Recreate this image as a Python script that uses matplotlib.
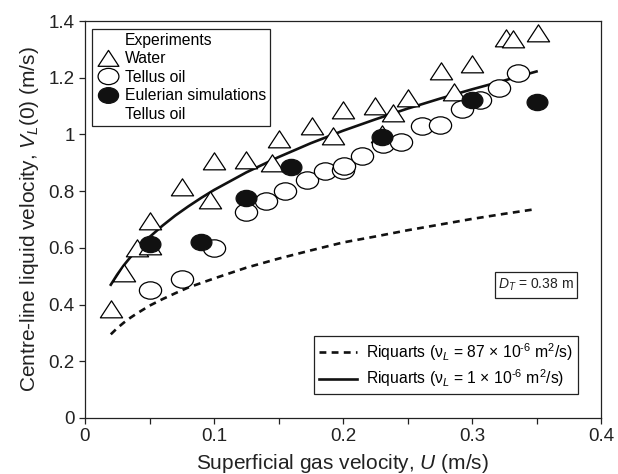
import matplotlib
matplotlib.use("Agg")
import matplotlib.pyplot as plt
from matplotlib.lines import Line2D
from matplotlib.path import Path
from matplotlib.patches import Rectangle
from matplotlib.transforms import Affine2D
import numpy as np

plt.rcParams['font.family'] = ['Liberation Sans', 'DejaVu Sans']
plt.rcParams['mathtext.fontset'] = 'custom'
plt.rcParams['mathtext.rm'] = 'Liberation Sans'
plt.rcParams['mathtext.it'] = 'Liberation Sans:italic'
plt.rcParams['mathtext.bf'] = 'Liberation Sans:bold'

# ---- data ----
water_u = [0.020, 0.030, 0.040, 0.050, 0.050, 0.075, 0.097, 0.100, 0.125, 0.145,
           0.150, 0.176, 0.192, 0.200, 0.225, 0.230, 0.239, 0.250, 0.276, 0.286,
           0.300, 0.326, 0.332, 0.351]
water_v = [0.385, 0.510, 0.600, 0.605, 0.695, 0.815, 0.770, 0.905, 0.910, 0.900,
           0.985, 1.030, 0.995, 1.085, 1.100, 1.000, 1.075, 1.130, 1.225, 1.150,
           1.250, 1.340, 1.335, 1.357]

oil_u = [0.050, 0.075, 0.100, 0.125, 0.140, 0.155, 0.172, 0.186, 0.200, 0.201,
         0.215, 0.231, 0.245, 0.261, 0.275, 0.292, 0.306, 0.321, 0.336]
oil_v = [0.450, 0.490, 0.600, 0.725, 0.765, 0.800, 0.840, 0.870, 0.875, 0.890,
         0.925, 0.965, 0.975, 1.030, 1.035, 1.090, 1.120, 1.165, 1.215]

sim_u = [0.050, 0.090, 0.125, 0.160, 0.230, 0.300, 0.350]
sim_v = [0.613, 0.620, 0.775, 0.885, 0.990, 1.120, 1.113]

riq_u = [0.02, 0.025, 0.03, 0.035, 0.04, 0.045, 0.05, 0.06, 0.07, 0.08, 0.09, 0.10,
         0.125, 0.15, 0.175, 0.20, 0.225, 0.25, 0.275, 0.30, 0.325, 0.35]
riq_oil_v = [0.295, 0.317, 0.336, 0.353, 0.368, 0.382, 0.396, 0.419, 0.440, 0.460,
             0.476, 0.492, 0.530, 0.562, 0.591, 0.619, 0.640, 0.662, 0.682, 0.702,
             0.720, 0.737]
riq_water_v = [0.470, 0.506, 0.538, 0.566, 0.592, 0.616, 0.638, 0.678, 0.714, 0.746,
               0.776, 0.804, 0.866, 0.920, 0.969, 1.013, 1.053, 1.091, 1.126, 1.159,
               1.190, 1.222]

x_ticks = [0, 0.1, 0.2, 0.3, 0.4]
y_ticks = [0, 0.2, 0.4, 0.6, 0.8, 1.0, 1.2, 1.4]

# ---- marker shapes (slightly flattened, as in the reference) ----
ell = Path.unit_circle().transformed(Affine2D().scale(1.0, 0.78))
tri = Path([(-1, -0.75), (1, -0.75), (0, 0.78), (-1, -0.75)],
           [Path.MOVETO, Path.LINETO, Path.LINETO, Path.CLOSEPOLY])

fig = plt.figure(figsize=(6.18, 4.74), dpi=100)
ax = fig.add_axes([85/618, 1-418/474, (601-85)/618, (418-21)/474])

ms = 16
mew = 0.9
dash = (0, (2.6, 2.0))
ax.plot(riq_u, riq_oil_v, color='#111111', lw=1.9, ls=dash, zorder=2)
ax.plot(riq_u, riq_water_v, color='#111111', lw=1.9, zorder=2)
ax.plot(water_u, water_v, ls='none', marker=tri, ms=ms, mfc='white', mec='black',
        mew=mew, zorder=3)
ax.plot(oil_u, oil_v, ls='none', marker=ell, ms=ms, mfc='white', mec='black',
        mew=mew, zorder=3)
ax.plot(sim_u, sim_v, ls='none', marker=ell, ms=ms - 1, mfc='#111111', mec='#111111',
        mew=mew, zorder=4)

ax.set_xlim(0, 0.4)
ax.set_ylim(0, 1.4)
ax.set_xticks(x_ticks)
ax.set_xticks([0.05, 0.15, 0.25, 0.35], minor=True)
ax.set_yticks(y_ticks)
ax.set_xticklabels(['%g' % t for t in x_ticks])
ax.set_yticklabels(['%g' % t for t in y_ticks])
ax.tick_params(which='both', direction='out', length=4.5, width=0.9,
               labelsize=13.5, colors='#222222', pad=3)
for sp in ax.spines.values():
    sp.set_linewidth(0.9)
    sp.set_color('#222222')

ax.set_xlabel('Superficial gas velocity, $U$ (m/s)', fontsize=15, labelpad=5,
              color='#222222')
ax.set_ylabel('Centre-line liquid velocity, $V_L$(0) (m/s)', fontsize=15,
              labelpad=5, color='#222222')

# ---- legend 1 (upper left) ----
blank = Line2D([], [], ls='none', marker=None)
h_water = Line2D([], [], ls='none', marker=tri, ms=ms - 1, mfc='white', mec='black', mew=mew)
h_oil = Line2D([], [], ls='none', marker=ell, ms=ms - 1, mfc='white', mec='black', mew=mew)
h_sim = Line2D([], [], ls='none', marker=ell, ms=ms - 1.5, mfc='#111111', mec='#111111', mew=mew)
leg1 = fig.legend([blank, h_water, h_oil, h_sim, blank],
                  ['Experiments', 'Water', 'Tellus oil', 'Eulerian simulations', 'Tellus oil'],
                  loc='upper left', bbox_to_anchor=(92/618, 1-29/474),
                  bbox_transform=fig.transFigure, borderaxespad=0,
                  fontsize=11.3, frameon=True, fancybox=False, edgecolor='#222222',
                  framealpha=1, borderpad=0.25, handlelength=1.5, handletextpad=0.35,
                  labelspacing=0.22)
leg1.get_frame().set_linewidth(0.9)

# ---- legend 2 (lower right) ----
h_d = Line2D([], [], color='#111111', lw=1.9, ls=dash)
h_s = Line2D([], [], color='#111111', lw=1.9)
leg2 = fig.legend([h_d, h_s],
                  [r'Riquarts ($\mathrm{\nu}_L$ = 87 $\times$ 10$^{\text{-6}}$ m$^2$/s)',
                   r'Riquarts ($\mathrm{\nu}_L$ = 1 $\times$ 10$^{\text{-6}}$ m$^2$/s)'],
                  loc='lower right', bbox_to_anchor=(578/618, 1-394/474),
                  bbox_transform=fig.transFigure, borderaxespad=0,
                  fontsize=11.3, frameon=True, fancybox=False, edgecolor='#222222',
                  framealpha=1, borderpad=0.3, handlelength=2.4, handletextpad=0.6,
                  labelspacing=0.3)
leg2.get_frame().set_linewidth(0.9)

# ---- D_T annotation ----
fig.patches.append(Rectangle((495/618, 1-298/474), 82/618, 26/474,
                             transform=fig.transFigure, fc='white', ec='#222222',
                             lw=0.9, zorder=5))
fig.text(536/618, 1-285/474, r'$D_T$ = 0.38 m', fontsize=10, ha='center',
         va='center', color='#222222', zorder=6)

fig.savefig('out.png', dpi=100)
